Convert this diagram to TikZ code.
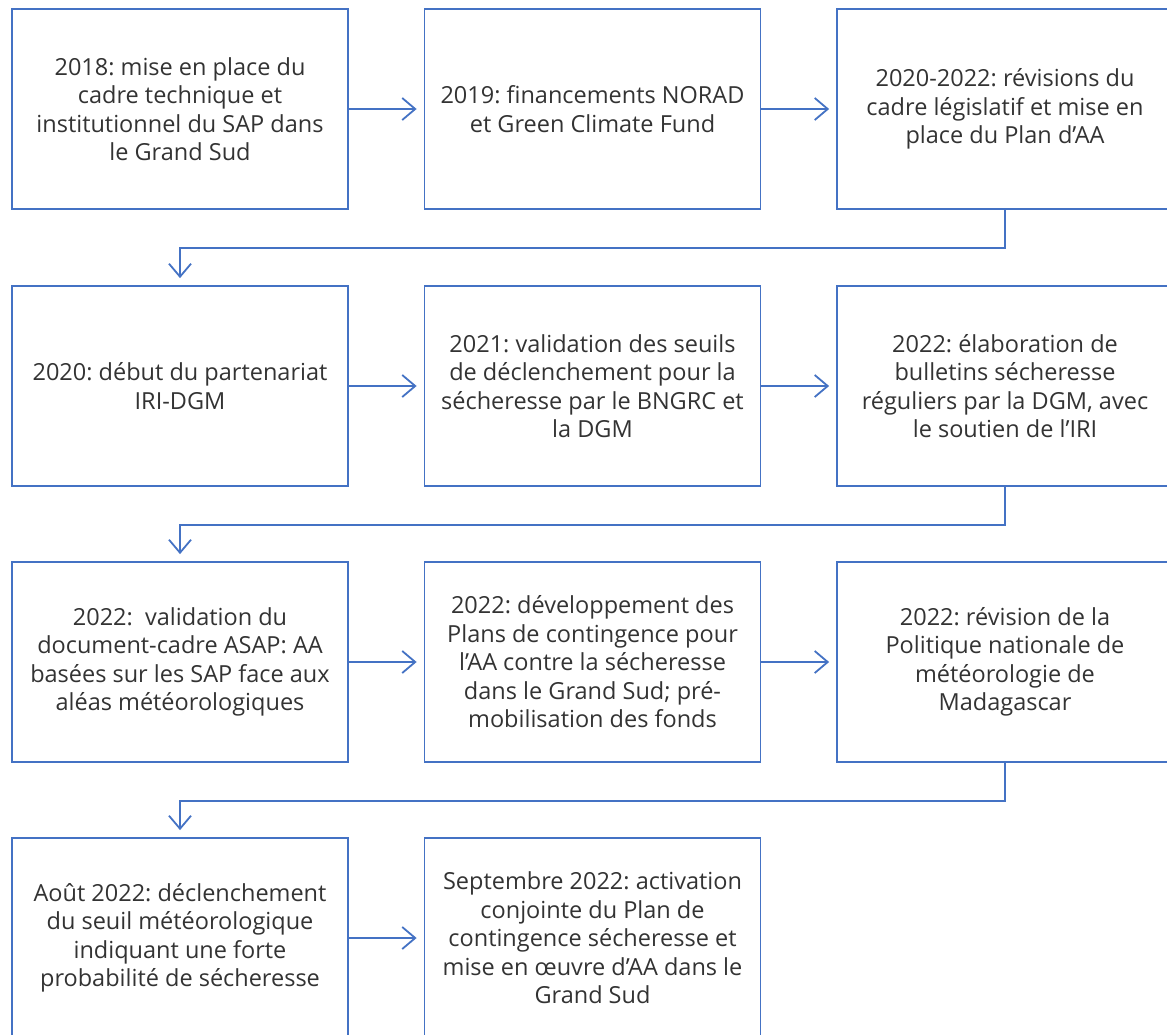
\documentclass[tikz,border=0pt]{standalone}
\usepackage{fontspec}
\setmainfont{Open Sans}
\usetikzlibrary{arrows.meta}
\definecolor{boxblue}{HTML}{4472C4}
\definecolor{txtgray}{HTML}{333333}
\frenchspacing
\tikzset{
  stepbox/.style={draw=boxblue, line width=1.8pt, fill=white, minimum width=336pt, minimum height=200pt,
    align=center, text=txtgray, inner sep=2pt, font=\fontsize{23.5}{28.5}\selectfont},
  conn/.style={draw=boxblue, line width=1.8pt, -{Straight Barb[length=13pt,width=22pt]}, shorten >=7pt}
}
\begin{document}
\begin{tikzpicture}[x=1pt,y=-1pt]
\useasboundingbox (0,0) rectangle (1167,1034);
\clip (0,0) rectangle (1167,1034);
\fill[white] (0,0) rectangle (1167,1034);
% row 1
\node[stepbox] (a1) at (180,109) {2018: mise en place du\\cadre technique et\\institutionnel du SAP dans\\le Grand Sud};
\node[stepbox] (a2) at (592.5,109) {2019: financements NORAD\\et Green Climate Fund};
\node[stepbox] (a3) at (1005,109) {2020-2022: révisions du\\cadre législatif et mise en\\place du Plan d'AA};
% row 2
\node[stepbox] (b1) at (180,386) {2020: début du partenariat\\IRI-DGM};
\node[stepbox] (b2) at (592.5,386) {2021: validation des seuils\\de déclenchement pour la\\sécheresse par le BNGRC et\\la DGM};
\node[stepbox] (b3) at (1005,386) {2022: élaboration de\\bulletins sécheresse\\réguliers par la DGM, avec\\le soutien de l'IRI};
% row 3
\node[stepbox] (c1) at (180,662) {2022:\ \ validation du\\document-cadre ASAP: AA\\basées sur les SAP face aux\\aléas météorologiques};
\node[stepbox] (c2) at (592.5,662) {2022: développement des\\Plans de contingence pour\\l'AA contre la sécheresse\\dans le Grand Sud; pré-\\mobilisation des fonds};
\node[stepbox] (c3) at (1005,662) {2022: révision de la\\Politique nationale de\\météorologie de\\Madagascar};
% row 4
\node[stepbox] (d1) at (180,938) {Août 2022: déclenchement\\du seuil météorologique\\indiquant une forte\\probabilité de sécheresse};
\node[stepbox] (d2) at (592.5,938) {Septembre 2022: activation\\conjointe du Plan de\\contingence sécheresse et\\mise en œuvre d'AA dans le\\Grand Sud};
% connectors
\draw[conn] (a1) -- (a2);
\draw[conn] (a2) -- (a3);
\draw[conn] (b1) -- (b2);
\draw[conn] (b2) -- (b3);
\draw[conn] (c1) -- (c2);
\draw[conn] (c2) -- (c3);
\draw[conn] (d1) -- (d2);
\draw[conn] (a3.south) -- ++(0,38) -| (b1.north);
\draw[conn] (b3.south) -- ++(0,38) -| (c1.north);
\draw[conn] (c3.south) -- ++(0,38) -| (d1.north);
\end{tikzpicture}
\end{document}
